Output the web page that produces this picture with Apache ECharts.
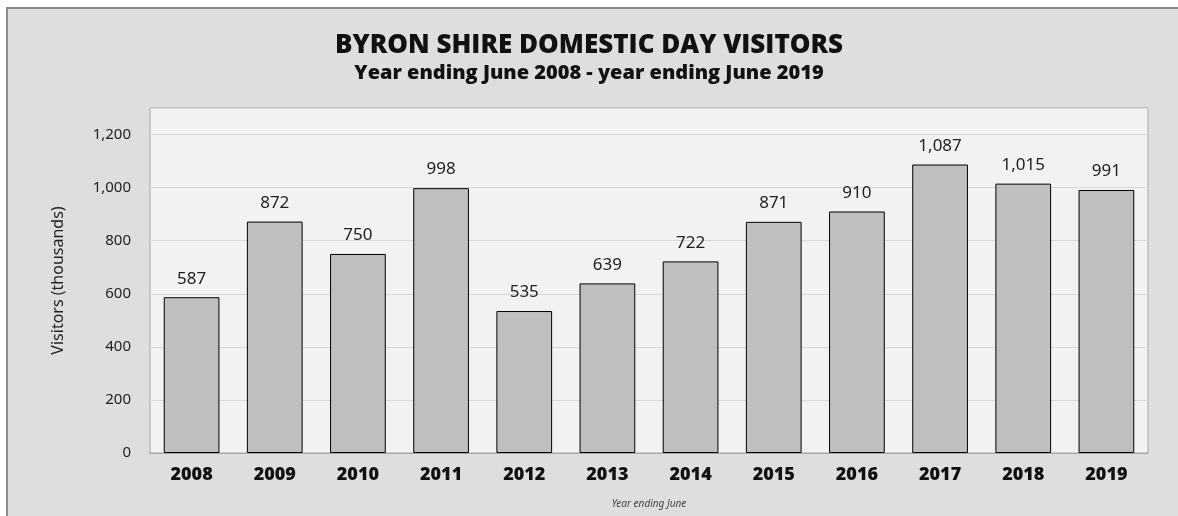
<!DOCTYPE html>
<html>
<head>
<meta charset="utf-8">
<script src="https://cdn.jsdelivr.net/npm/echarts@6/dist/echarts.min.js"></script>
<style>
  html, body { margin: 0; padding: 0; background: #ffffff; }
  #chart { width: 1178px; height: 516px; }
</style>
</head>
<body>
<div id="chart"></div>
<script>
// Byron Shire domestic day visitors, year ending June (thousands)
const years = ['2008', '2009', '2010', '2011', '2012', '2013', '2014', '2015', '2016', '2017', '2018', '2019'];
const visitors = [587, 872, 750, 998, 535, 639, 722, 871, 910, 1087, 1015, 991];
const yTicks = [0, 200, 400, 600, 800, 1000, 1200];

const fmt = v => v.toLocaleString('en-US');
const labelFont = '"Noto Sans", "DejaVu Sans", sans-serif';

const chart = echarts.init(document.getElementById('chart'), null, { renderer: 'canvas' });
chart.setOption({
  backgroundColor: '#ffffff',
  animation: false,
  graphic: [
    {
      type: 'rect',
      z: -10,
      shape: { x: 7, y: 8, width: 1200, height: 540 },
      style: { fill: '#dedede', stroke: '#8a8a8a', lineWidth: 2 }
    }
  ],
  title: {
    text: 'BYRON SHIRE DOMESTIC DAY VISITORS',
    subtext: 'Year ending June 2008 - year ending June 2019',
    left: 'center',
    top: 28,
    itemGap: 4,
    textStyle: { fontFamily: '"Open Sans", sans-serif', fontWeight: 800, fontSize: 26, color: '#111' },
    subtextStyle: { fontFamily: '"Open Sans", sans-serif', fontWeight: 800, fontSize: 20, color: '#111' }
  },
  grid: {
    left: 150, right: 30, top: 108, bottom: 63,
    show: true, backgroundColor: '#f2f2f2', borderColor: '#a6a6a6', borderWidth: 1
  },
  xAxis: {
    type: 'category',
    data: years,
    name: 'Year ending June',
    nameLocation: 'middle',
    nameGap: 46,
    nameTextStyle: { fontFamily: labelFont, fontStyle: 'italic', fontSize: 10, color: '#444' },
    axisLine: { show: true, lineStyle: { color: '#a6a6a6' } },
    axisTick: { show: false },
    axisLabel: { fontFamily: labelFont, fontWeight: 900, fontSize: 18, color: '#111', margin: 13 }
  },
  yAxis: {
    type: 'value',
    min: 0,
    max: 1300,
    interval: 200,
    name: 'Visitors (thousands)',
    nameLocation: 'middle',
    nameGap: 84,
    nameTextStyle: { fontFamily: labelFont, fontSize: 16, color: '#222' },
    axisLine: { show: false },
    axisTick: { show: false },
    splitLine: { lineStyle: { color: '#d9d9d9' } },
    axisLabel: {
      fontFamily: labelFont, fontSize: 15, color: '#222', margin: 19,
      formatter: v => (yTicks.includes(v) ? fmt(v) : '')
    }
  },
  series: [{
    type: 'bar',
    data: visitors,
    barWidth: '67%',
    itemStyle: { color: '#bfbfbf', borderColor: '#000', borderWidth: 1 },
    label: {
      show: true,
      position: 'top',
      distance: 10,
      fontFamily: labelFont,
      fontSize: 17,
      color: '#222',
      formatter: p => fmt(p.value)
    }
  }]
});
</script>
</body>
</html>
